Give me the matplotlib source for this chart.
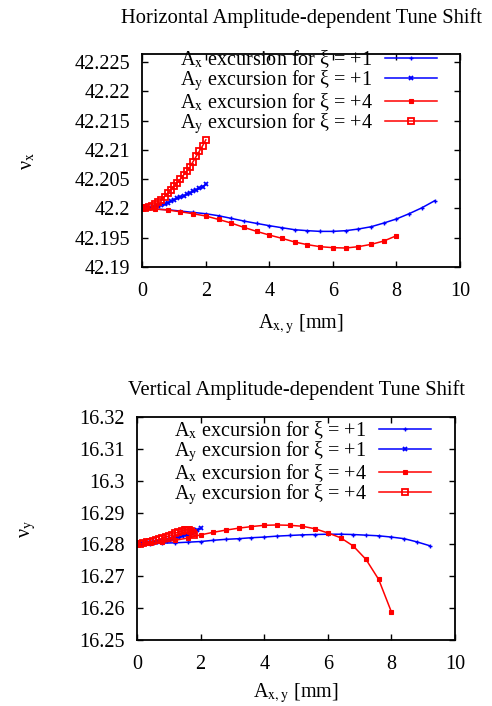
import numpy as np
import matplotlib
matplotlib.use('Agg')
from matplotlib import pyplot as plt
from matplotlib.ticker import FuncFormatter, MultipleLocator

plt.rcParams['font.family'] = ['Liberation Serif', 'DejaVu Serif']
plt.rcParams['mathtext.fontset'] = 'stix'
FS = 14.5

# ---- horizontal tune (nu_x) ----
nux0 = 42.2
ax_x_amp_1 = [0.0, 0.4, 0.8, 1.2, 1.6, 2.0, 2.4, 2.8, 3.2, 3.6, 4.0, 4.4, 4.8,
              5.2, 5.6, 6.0, 6.4, 6.8, 7.2, 7.6, 8.0, 8.4, 8.8, 9.2]
ax_x_dnu_1 = [0.0, -0.0001, -0.00023, -0.00045, -0.00068, -0.00091, -0.00125,
              -0.0017, -0.00216, -0.00256, -0.00295, -0.0033, -0.00364, -0.0038,
              -0.00392, -0.00392, -0.0038, -0.00352, -0.00313, -0.0025, -0.0018,
              -0.0009, 0.0001, 0.0013]
ax_y_amp_1 = [0.0, 0.1, 0.2, 0.3, 0.4, 0.5, 0.6, 0.7, 0.8, 0.9, 1.0, 1.1, 1.2,
              1.3, 1.4, 1.5, 1.6, 1.7, 1.8, 1.9, 2.0]
ax_y_dnu_1 = [0.0, 0.00002, 0.00005, 0.0001, 0.0002, 0.0004, 0.0006, 0.0008,
              0.001, 0.0012, 0.0015, 0.0017, 0.0019, 0.0021, 0.0024, 0.0026,
              0.0029, 0.0031, 0.0034, 0.0037, 0.0041]
ax_x_amp_4 = [0.0, 0.4, 0.8, 1.2, 1.6, 2.0, 2.4, 2.8, 3.2, 3.6, 4.0, 4.4, 4.8,
              5.2, 5.6, 6.0, 6.4, 6.8, 7.2, 7.6, 8.0]
ax_x_dnu_4 = [0.0, -0.00011, -0.00028, -0.00057, -0.00091, -0.0013, -0.00188,
              -0.0025, -0.00324, -0.00392, -0.00455, -0.00511, -0.00574,
              -0.00619, -0.00653, -0.0067, -0.00676, -0.00653, -0.00614,
              -0.00557, -0.00466]
ax_y_amp_4 = [0.0, 0.1, 0.2, 0.3, 0.4, 0.5, 0.6, 0.7, 0.8, 0.9, 1.0, 1.1, 1.2,
              1.3, 1.4, 1.5, 1.6, 1.7, 1.8, 1.9, 2.0]
ax_y_dnu_4 = [0.0, 0.00005, 0.0002, 0.0004, 0.0007, 0.0011, 0.0015, 0.002,
              0.0026, 0.0032, 0.0038, 0.0044, 0.005, 0.0057, 0.0064, 0.0071,
              0.008, 0.0089, 0.0098, 0.0107, 0.0117]

# ---- vertical tune (nu_y) ----
nuy0 = 16.2801
ay_x_amp_1 = ax_x_amp_1
ay_x_dnu_1 = [0.0, 0.0001, 0.0003, 0.0004, 0.0006, 0.0008, 0.0012, 0.0015,
              0.0017, 0.002, 0.0022, 0.0025, 0.0027, 0.0029, 0.003, 0.0031,
              0.0031, 0.003, 0.0028, 0.0026, 0.0022, 0.0017, 0.0007, -0.0005]
ay_y_amp_1 = [0.0, 0.1, 0.2, 0.3, 0.4, 0.5, 0.6, 0.7, 0.8, 0.9, 1.0, 1.1, 1.2,
              1.3, 1.4, 1.5, 1.6, 1.7, 1.8, 1.9, 2.0]
ay_y_dnu_1 = [0.0, 0.00003, 0.0001, 0.0002, 0.0003, 0.0004, 0.0006, 0.0007,
              0.0009, 0.0011, 0.0013, 0.0015, 0.0018, 0.0021, 0.0024, 0.0027,
              0.003, 0.0034, 0.0038, 0.0043, 0.0049]
ay_x_amp_4 = ax_x_amp_4
ay_x_dnu_4 = [0.0, 0.0002, 0.0005, 0.0012, 0.0019, 0.0029, 0.0037, 0.0044,
              0.005, 0.0055, 0.0059, 0.006, 0.0059, 0.0056, 0.0048, 0.0035,
              0.002, -0.0006, -0.0048, -0.0111, -0.0213]
ay_y_amp_4 = [0.0, 0.1, 0.2, 0.3, 0.4, 0.5, 0.6, 0.7, 0.8, 0.9, 1.0, 1.1, 1.2,
              1.3, 1.4, 1.5, 1.55, 1.6, 1.65, 1.7, 1.75, 1.8]
ay_y_dnu_4 = [0.0, 0.0001, 0.0003, 0.0005, 0.0007, 0.0009, 0.0012, 0.0015,
              0.0018, 0.0022, 0.0026, 0.003, 0.0034, 0.0038, 0.0041, 0.0044,
              0.0045, 0.0045, 0.0044, 0.0041, 0.0036, 0.0028]

labels = ['A$_{\\rm x}$ excursion for ξ = +1',
          'A$_{\\rm y}$ excursion for ξ = +1',
          'A$_{\\rm x}$ excursion for ξ = +4',
          'A$_{\\rm y}$ excursion for ξ = +4']
styles = [dict(color='#0000ff', marker='+', ms=3.5, mew=1.0),
          dict(color='#0000ff', marker='x', ms=3.5, mew=1.3),
          dict(color='#ff0000', marker='s', ms=2.5, mew=0.8),
          dict(color='#ff0000', marker='s', ms=4.5, mew=1.3, mfc='none')]

fig = plt.figure(figsize=(4.92, 7.06), dpi=100)
ax1 = fig.add_axes([0.2892, 0.6218, 0.6457, 0.3013])
ax2 = fig.add_axes([0.2785, 0.0935, 0.6463, 0.3159])


def draw(ax, base, series, ylim, yticks, title, title_pad, ylab, ylab_x,
         leg_anchor, xlab_pad):
    for (amp, dnu), lab, st in zip(series, labels, styles):
        ax.plot(amp, np.array(dnu) + base, lw=1.1, label=lab, **st)
    ax.set_xlim(0, 10)
    ax.set_ylim(*ylim)
    ax.xaxis.set_major_locator(MultipleLocator(2))
    ax.set_yticks(yticks)
    ax.xaxis.set_major_formatter(FuncFormatter(lambda v, p: '%g' % v))
    ax.yaxis.set_major_formatter(FuncFormatter(lambda v, p: '%.6g' % v))
    ax.tick_params(direction='in', length=4, width=1.0, top=True, right=True,
                   labelsize=FS)
    ax.tick_params(axis='y', pad=9)
    ax.tick_params(axis='x', pad=11)
    for s in ax.spines.values():
        s.set_linewidth(1.3)
    ax.set_title(title, fontsize=FS + 0.3, pad=title_pad)
    ax.set_xlabel('A$_{\\rm x,y}$ [mm]', fontsize=FS, labelpad=xlab_pad)
    ax.set_ylabel(ylab, fontsize=FS)
    ax.yaxis.set_label_coords(ylab_x, 0.5)
    ax.legend(loc='upper right', bbox_to_anchor=leg_anchor, frameon=False,
              markerfirst=False, fontsize=FS, borderpad=0, labelspacing=-0.1,
              handlelength=2.6, handletextpad=0.6, borderaxespad=0)


draw(ax1, nux0,
     [(ax_x_amp_1, ax_x_dnu_1), (ax_y_amp_1, ax_y_dnu_1),
      (ax_x_amp_4, ax_x_dnu_4), (ax_y_amp_4, ax_y_dnu_4)],
     (42.19, 42.2263), np.arange(42.19, 42.2251, 0.005),
     'Horizontal Amplitude-dependent Tune Shift', 22.5, 'ν$_{\\rm x}$', -0.331,
     (0.928, 1.03), 8)
draw(ax2, nuy0,
     [(ay_x_amp_1, ay_x_dnu_1), (ay_y_amp_1, ay_y_dnu_1),
      (ay_x_amp_4, ay_x_dnu_4), (ay_y_amp_4, ay_y_dnu_4)],
     (16.25, 16.32), np.arange(16.25, 16.3201, 0.01),
     'Vertical Amplitude-dependent Tune Shift', 15.5, 'ν$_{\\rm y}$', -0.312,
     (0.925, 0.99), 5)

fig.savefig('out.png', dpi=100)
